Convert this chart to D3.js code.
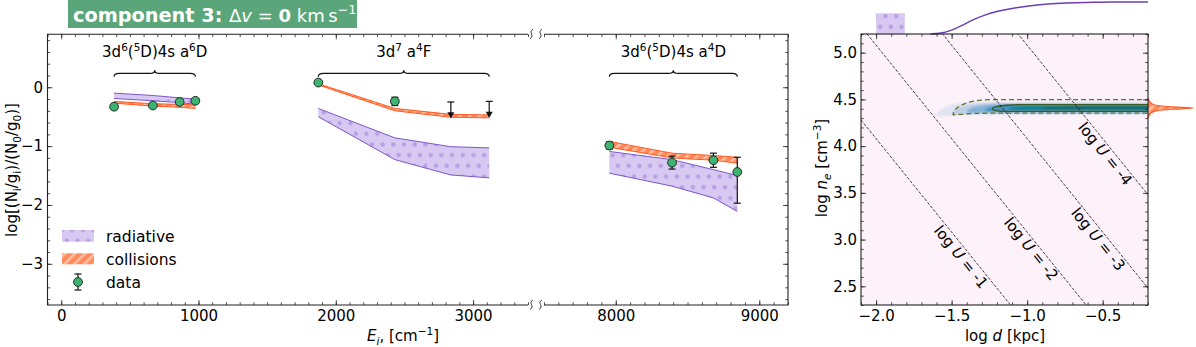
<!DOCTYPE html>
<html>
<head>
<meta charset="utf-8">
<title>component 3</title>
<script src="https://cdn.jsdelivr.net/npm/d3@7"></script>
<style>
  body { margin: 0; background: #fff; }
  svg { display: block; font-family: 'DejaVu Sans', sans-serif; }
  .tick text { font-size: 15px; fill: #000; font-family: 'DejaVu Sans', sans-serif; }
  .tick line { stroke: #222; stroke-width: 0.8; }
</style>
</head>
<body>
<div id="chart"></div>
<script>
// ---- left panel: Fe II level populations ----
var levelE    = [384.79, 667.68, 862.61, 977.05, 1872.60, 2430.14, 2837.98, 3117.46, 7955.32, 8391.94, 8680.45, 8846.78];
var levelTerm = [0, 0, 0, 0, 1, 1, 1, 1, 2, 2, 2, 2];
var radHi = [-0.10, -0.14, -0.18, -0.20, -0.36, -0.86, -1.01, -1.03, -1.09, -1.23, -1.40, -1.50];
var radLo = [-0.19, -0.23, -0.26, -0.29, -0.50, -1.23, -1.49, -1.54, -1.46, -1.68, -1.88, -2.11];
var colHi = [-0.24, -0.28, -0.29, -0.30, 0.06, -0.36, -0.46, -0.47, -0.92, -1.12, -1.16, -1.19];
var colLo = [-0.27, -0.32, -0.34, -0.36, 0.04, -0.40, -0.51, -0.52, -1.02, -1.20, -1.24, -1.29];
var termLabels = [
  [["3d"], ["6", "sup"], ["("], ["5", "sup"], ["D)4s a"], ["6", "sup"], ["D"]],
  [["3d"], ["7", "sup"], [" a"], ["4", "sup"], ["F"]],
  [["3d"], ["6", "sup"], ["("], ["5", "sup"], ["D)4s a"], ["4", "sup"], ["D"]]
];

var obsE     = [384.79, 667.68, 862.61, 977.05, 1872.60, 2430.14, 7955.32, 8391.94, 8680.45, 8846.78];
var obsVal   = [-0.33, -0.31, -0.25, -0.23, 0.08, -0.24, -0.99, -1.28, -1.24, -1.44];
var obsErrLo = [0.02, 0.02, 0.03, 0.03, 0.02, 0.07, 0.06, 0.11, 0.12, 0.53];
var obsErrHi = [0.02, 0.02, 0.03, 0.03, 0.02, 0.07, 0.06, 0.11, 0.12, 0.25];
var limE   = [2837.98, 3117.46];
var limVal = [-0.25, -0.24];
var limLen = 0.26;

var xTicksA = [0, 1000, 2000, 3000];
var xTicksB = [8000, 9000];
var yTicks  = [0, -1, -2, -3];

// ---- right panel: distance / density ----
var logUs   = [-1, -2, -3, -4];
var uConst  = -0.92;               // log n = uConst - 2 log d - log U
var uLabelD = [-1.464, -1.0, -0.556, -0.51];
var uLabelN = [2.78, 2.865, 2.97, 3.884];
var densTipD = [-1.60, -1.50, -1.40, -1.28, -1.12, -0.90];
var densTipN = [4.315, 4.335, 4.36, 4.385, 4.40, 4.405];
var densTopN = [4.47, 4.46, 4.45, 4.443, 4.437, 4.428];
var densBotN = [4.335, 4.35, 4.36, 4.372, 4.385, 4.395];
var densCol  = ["#d9deee", "#b4c8e2", "#7fb2d6", "#3f93c2", "#0f8290", "#17685a"];
var contTipD = [-1.49, -1.23];
var contTipN = [4.335, 4.40];
var contTopN = [4.497, 4.445];
var contBotN = [4.353, 4.373];
var margD = [-1.64, -1.58, -1.50, -1.43, -1.36, -1.28, -1.20, -1.10, -0.99, -0.88, -0.77, -0.60, -0.44, -0.20];
var margV = [0.0, 0.02, 0.12, 0.27, 0.44, 0.59, 0.70, 0.80, 0.875, 0.93, 0.96, 0.985, 1.0, 1.0];
var margN = [4.30, 4.33, 4.36, 4.38, 4.395, 4.407, 4.42, 4.435, 4.455, 4.485, 4.52];
var margNV = [0.0, 0.03, 0.08, 0.2, 0.55, 1.0, 0.55, 0.2, 0.08, 0.03, 0.0];
var priorD = [-2.0, -1.81];

var W = 1196, H = 347;
var svg = d3.select("#chart").append("svg").attr("width", W).attr("height", H);
svg.append("rect").attr("width", W).attr("height", H).attr("fill", "#fff");

var defs = svg.append("defs");
var pd = defs.append("pattern").attr("id", "dots").attr("patternUnits", "userSpaceOnUse")
  .attr("width", 10.7).attr("height", 21.4);
pd.append("rect").attr("width", 10.7).attr("height", 21.4).attr("fill", "#d7c9f1");
pd.append("circle").attr("cx", 2.7).attr("cy", 5.3).attr("r", 2.2).attr("fill", "#b89fe4");
pd.append("circle").attr("cx", 8.05).attr("cy", 16).attr("r", 2.2).attr("fill", "#b89fe4");
var ph = defs.append("pattern").attr("id", "hatch").attr("patternUnits", "userSpaceOnUse")
  .attr("width", 7).attr("height", 7).attr("patternTransform", "rotate(45)");
ph.append("rect").attr("width", 7).attr("height", 7).attr("fill", "#ff8a5c");
ph.append("rect").attr("width", 2.6).attr("height", 7).attr("fill", "#ffbfa2");
defs.append("filter").attr("id", "soft").append("feGaussianBlur").attr("stdDeviation", 1.2);
defs.append("clipPath").attr("id", "clipR").append("rect")
  .attr("x", 861).attr("y", 34).attr("width", 287).attr("height", 271);

function rich(t, parts, fs) {
  var off = 0;
  parts.forEach(function(p) {
    var s = p[1] || "";
    var target = 0;
    if (s.indexOf("sub") >= 0) target = fs * 0.28;
    if (s.indexOf("sup") >= 0) target = -fs * 0.42;
    var ts = t.append("tspan").text(p[0]).attr("dy", target - off);
    off = target;
    if (target !== 0) ts.attr("font-size", fs * 0.7);
    if (s.indexOf("it") >= 0) ts.attr("font-style", "italic");
    if (s.indexOf("bold") >= 0) ts.attr("font-weight", "bold");
  });
}

// ================= LEFT PANEL =================
var xA = d3.scaleLinear().domain([-100, 3400]).range([47.5, 528]);
var xB = d3.scaleLinear().domain([7500, 9200]).range([544, 788]);
var y = d3.scaleLinear().domain([-3.7, 0.9]).range([305, 34.3]);
function xE(e) { return e < 5000 ? xA(e) : xB(e); }

var levels = levelE.map(function(e, i) {
  return { e: e, t: levelTerm[i], rh: radHi[i], rl: radLo[i], ch: colHi[i], cl: colLo[i] };
});
var terms = d3.groups(levels, function(d) { return d.t; });

var gL = svg.append("g");
var radArea = d3.area().x(function(d) { return xE(d.e); })
  .y0(function(d) { return y(d.rl); }).y1(function(d) { return y(d.rh); });
var colArea = d3.area().x(function(d) { return xE(d.e); })
  .y0(function(d) { return y(d.cl); }).y1(function(d) { return y(d.ch); });
var radTop = d3.line().x(function(d) { return xE(d.e); }).y(function(d) { return y(d.rh); });
var radBot = d3.line().x(function(d) { return xE(d.e); }).y(function(d) { return y(d.rl); });
var colTop = d3.line().x(function(d) { return xE(d.e); }).y(function(d) { return y(d.ch); });
var colBot = d3.line().x(function(d) { return xE(d.e); }).y(function(d) { return y(d.cl); });

terms.forEach(function(tg) {
  var pts = tg[1];
  gL.append("path").attr("d", radArea(pts)).attr("fill", "url(#dots)");
  [radTop, radBot].forEach(function(f) {
    gL.append("path").attr("d", f(pts)).attr("fill", "none").attr("stroke", "#7d57c6").attr("stroke-width", 1);
  });
});
terms.forEach(function(tg) {
  var pts = tg[1];
  gL.append("path").attr("d", colArea(pts)).attr("fill", "url(#hatch)");
  [colTop, colBot].forEach(function(f) {
    gL.append("path").attr("d", f(pts)).attr("fill", "none").attr("stroke", "#ff5a24").attr("stroke-width", 1);
  });
});

// braces + term labels
terms.forEach(function(tg) {
  var pts = tg[1];
  var x0 = xE(pts[0].e), x1 = xE(pts[pts.length - 1].e), xm = (x0 + x1) / 2;
  var yb = y(0.18), yf = y(0.235), yt = y(0.29), r = 5;
  var p = d3.path();
  p.moveTo(x0, yb);
  p.quadraticCurveTo(x0, yf, x0 + r, yf);
  p.lineTo(xm - r, yf);
  p.quadraticCurveTo(xm, yf, xm, yt);
  p.quadraticCurveTo(xm, yf, xm + r, yf);
  p.lineTo(x1 - r, yf);
  p.quadraticCurveTo(x1, yf, x1, yb);
  gL.append("path").attr("d", p.toString()).attr("fill", "none").attr("stroke", "#111").attr("stroke-width", 1.2);
  var t = gL.append("text").attr("x", xm).attr("y", 57).attr("text-anchor", "middle").attr("font-size", 15);
  rich(t, termLabels[tg[0]], 15);
});

// data points with error bars
var obs = obsE.map(function(e, i) { return { e: e, v: obsVal[i], lo: obsErrLo[i], hi: obsErrHi[i] }; });
obs.forEach(function(d) {
  var cx = xE(d.e);
  gL.append("line").attr("x1", cx).attr("x2", cx).attr("y1", y(d.v - d.lo)).attr("y2", y(d.v + d.hi))
    .attr("stroke", "#111").attr("stroke-width", 1.2);
  [d.v - d.lo, d.v + d.hi].forEach(function(v) {
    gL.append("line").attr("x1", cx - 3.5).attr("x2", cx + 3.5).attr("y1", y(v)).attr("y2", y(v))
      .attr("stroke", "#111").attr("stroke-width", 1.2);
  });
});
limE.forEach(function(e, i) {
  var cx = xE(e), y0 = y(limVal[i]), y1 = y(limVal[i] - limLen);
  gL.append("line").attr("x1", cx).attr("x2", cx).attr("y1", y0).attr("y2", y1).attr("stroke", "#111").attr("stroke-width", 1.2);
  gL.append("line").attr("x1", cx - 3.5).attr("x2", cx + 3.5).attr("y1", y0).attr("y2", y0).attr("stroke", "#111").attr("stroke-width", 1.2);
  gL.append("path").attr("d", "M" + (cx - 3.5) + "," + (y1 - 5) + "L" + (cx + 3.5) + "," + (y1 - 5) + "L" + cx + "," + (y1 + 1) + "Z")
    .attr("fill", "#111");
});
gL.selectAll("circle.obs").data(obs).join("circle").attr("class", "obs")
  .attr("cx", function(d) { return xE(d.e); }).attr("cy", function(d) { return y(d.v); })
  .attr("r", 4.4).attr("fill", "#3cb371").attr("stroke", "#1b1b1b").attr("stroke-width", 0.9);

// legend
var lg = svg.append("g").attr("font-size", 15.5);
lg.append("rect").attr("x", 62).attr("y", 230).attr("width", 32).attr("height", 11.7).attr("fill", "url(#dots)");
lg.append("text").attr("x", 106).attr("y", 241.5).text("radiative");
lg.append("rect").attr("x", 62).attr("y", 253.3).attr("width", 32).attr("height", 11).attr("fill", "url(#hatch)");
lg.append("text").attr("x", 106).attr("y", 265).text("collisions");
lg.append("line").attr("x1", 78).attr("x2", 78).attr("y1", 274).attr("y2", 290).attr("stroke", "#111").attr("stroke-width", 1.2);
[274, 290].forEach(function(v) {
  lg.append("line").attr("x1", 74.5).attr("x2", 81.5).attr("y1", v).attr("y2", v).attr("stroke", "#111").attr("stroke-width", 1.2);
});
lg.append("circle").attr("cx", 78).attr("cy", 282).attr("r", 4.4).attr("fill", "#3cb371").attr("stroke", "#1b1b1b").attr("stroke-width", 0.9);
lg.append("text").attr("x", 106).attr("y", 288.3).text("data");

// axes of left panel
function noDomain(g) { g.select(".domain").remove(); }
function minorRange(a, b, s) { return d3.range(Math.round(a / s), Math.round(b / s) + 1).map(function(k) { return +(k * s).toFixed(4); }); }

[[xA, xTicksA, -100, 3400], [xB, xTicksB, 7500, 9200]].forEach(function(c) {
  svg.append("g").attr("transform", "translate(0,305)")
    .call(d3.axisBottom(c[0]).tickValues(minorRange(c[2], c[3], 100)).tickSize(-2.7).tickFormat("")).call(noDomain);
  svg.append("g").attr("transform", "translate(0,305)")
    .call(d3.axisBottom(c[0]).tickValues(c[1]).tickSize(-5).tickPadding(5.5).tickFormat(d3.format("d"))).call(noDomain);
  svg.append("g").attr("transform", "translate(0,34.3)")
    .call(d3.axisTop(c[0]).tickValues(minorRange(c[2], c[3], 100)).tickSize(-2.7).tickFormat("")).call(noDomain);
  svg.append("g").attr("transform", "translate(0,34.3)")
    .call(d3.axisTop(c[0]).tickValues(c[1]).tickSize(-5).tickFormat("")).call(noDomain);
});
svg.append("g").attr("transform", "translate(47.5,0)")
  .call(d3.axisLeft(y).tickValues(minorRange(-3.6, 0.8, 0.2)).tickSize(-2.7).tickFormat("")).call(noDomain);
svg.append("g").attr("transform", "translate(47.5,0)")
  .call(d3.axisLeft(y).tickValues(yTicks).tickSize(-5).tickPadding(4.5).tickFormat(d3.format("d"))).call(noDomain);
svg.append("g").attr("transform", "translate(788,0)")
  .call(d3.axisRight(y).tickValues(minorRange(-3.6, 0.8, 0.2)).tickSize(-2.7).tickFormat("")).call(noDomain);
svg.append("g").attr("transform", "translate(788,0)")
  .call(d3.axisRight(y).tickValues(yTicks).tickSize(-5).tickFormat("")).call(noDomain);

var spine = svg.append("g").attr("stroke", "#222").attr("stroke-width", 1.1).attr("fill", "none");
spine.append("path").attr("d", "M" + xA.range()[1] + ",34.3H47.5V305H" + xA.range()[1]);
spine.append("path").attr("d", "M" + xB.range()[0] + ",34.3H788V305H" + xB.range()[0]);
// break marks
[34.3, 305].forEach(function(yy) {
  [531.5, 540.5].forEach(function(xx) {
    spine.append("path").attr("d", "M" + (xx + 1.5) + "," + (yy - 5) + "C" + (xx - 4) + "," + (yy - 2) + " " + (xx + 4) + "," + (yy + 1) + " " + (xx - 1.5) + "," + (yy + 4.5))
      .attr("stroke-width", 0.9);
  });
});

var yl = svg.append("text").attr("transform", "translate(17,170) rotate(-90)").attr("text-anchor", "middle").attr("font-size", 15);
rich(yl, [["log[(N"], ["i", "sub"], ["/g"], ["i", "sub"], [")/(N"], ["0", "sub"], ["/g"], ["0", "sub"], [")]"]], 15);
var xl = svg.append("text").attr("x", 403).attr("y", 341).attr("text-anchor", "middle").attr("font-size", 15);
rich(xl, [["E", "it"], ["i", "itsub"], [", [cm"], ["\u22121", "sup"], ["]"]], 15);

// title box
svg.append("rect").attr("x", 68).attr("y", 0).attr("width", 289).attr("height", 28).attr("fill", "#5aa57a");
svg.append("text").attr("x", 73).attr("y", 22).attr("fill", "#fff").attr("font-weight", "bold").attr("font-size", 19.3).text("component 3:");
var tt = svg.append("text").attr("x", 229).attr("y", 22).attr("fill", "#fff").attr("font-size", 18);
rich(tt, [["\u0394"], ["v", "it"], [" = "], ["0", "bold"], [" km\u2009s"], ["\u22121", "sup"]], 18);

// ================= RIGHT PANEL =================
var xd = d3.scaleLinear().domain([-2.1, -0.2]).range([861, 1148]);
var yn = d3.scaleLinear().domain([2.3, 5.2]).range([305, 34]);

svg.append("rect").attr("x", 861).attr("y", 34).attr("width", 287).attr("height", 271).attr("fill", "#fdf2f9");

var gR = svg.append("g").attr("clip-path", "url(#clipR)");

function blob(tipD, tipN, topN, botN, closed) {
  var xr = 1150, xt = xd(tipD), yt = yn(tipN), y1 = yn(topN), y2 = yn(botN);
  var a = Math.min(38, (xr - xt) * 0.3);
  var p = d3.path();
  p.moveTo(xr, y1);
  p.lineTo(xt + a, y1);
  p.bezierCurveTo(xt + a * 0.3, y1, xt, yt - (yt - y1) * 0.45, xt, yt);
  p.bezierCurveTo(xt, yt + (y2 - yt) * 0.7 + 1.5, xt + a * 0.3, y2, xt + a, y2);
  p.lineTo(xr, y2);
  if (closed) p.closePath();
  return p.toString();
}
var gDens = gR.append("g").attr("filter", "url(#soft)");
densTipD.forEach(function(d, i) {
  gDens.append("path").attr("d", blob(d, densTipN[i], densTopN[i], densBotN[i], true))
    .attr("fill", densCol[i]).attr("opacity", i < 2 ? 0.8 : 1);
});
contTipD.forEach(function(d, i) {
  gR.append("path").attr("d", blob(d, contTipN[i], contTopN[i], contBotN[i], false))
    .attr("fill", "none").attr("stroke", i === 0 ? "#5f7230" : "#3c5a22").attr("stroke-width", 1.3)
    .attr("stroke-dasharray", i === 0 ? "5,3" : null);
});

// constant ionisation parameter lines
logUs.forEach(function(u, i) {
  var d0 = -2.1, d1 = -0.2;
  gR.append("line").attr("x1", xd(d0)).attr("y1", yn(uConst - 2 * d0 - u))
    .attr("x2", xd(d1)).attr("y2", yn(uConst - 2 * d1 - u))
    .attr("stroke", "#111").attr("stroke-width", 0.8).attr("stroke-dasharray", "3,1.6");
  var ang = Math.atan2(yn(uConst - 2 * d1 - u) - yn(uConst - 2 * d0 - u), xd(d1) - xd(d0)) * 180 / Math.PI;
  var t = gR.append("text").attr("text-anchor", "middle").attr("font-size", 15)
    .attr("transform", "translate(" + xd(uLabelD[i]) + "," + yn(uLabelN[i]) + ") rotate(" + ang + ")").attr("dy", "0.35em");
  rich(t, [["log "], ["U", "it"], [" = " + u]], 15);
});

// marginals
var mline = d3.line().x(function(d) { return xd(d[0]); }).y(function(d) { return 34 - d[1] * 32; }).curve(d3.curveMonotoneX);
svg.append("path").attr("d", mline(margD.map(function(d, i) { return [d, margV[i]]; })))
  .attr("fill", "none").attr("stroke", "#6a40b4").attr("stroke-width", 1.5);
svg.append("rect").attr("x", xd(priorD[0])).attr("y", 13.3).attr("width", xd(priorD[1]) - xd(priorD[0])).attr("height", 20.7)
  .attr("fill", "url(#dots)");
var marea = d3.area().y(function(d) { return yn(d[0]); }).x0(1148).x1(function(d) { return 1148 + d[1] * 45; }).curve(d3.curveMonotoneY);
var mpts = margN.map(function(n, i) { return [n, margNV[i]]; });
svg.append("path").attr("d", marea(mpts)).attr("fill", "url(#hatch)");
svg.append("path").attr("d", d3.line().y(function(d) { return yn(d[0]); }).x(function(d) { return 1148 + d[1] * 45; }).curve(d3.curveMonotoneY)(mpts))
  .attr("fill", "none").attr("stroke", "#ff5a24").attr("stroke-width", 1.2);

// axes of right panel
var rxMinor = minorRange(-2.1, -0.2, 0.1), ryMinor = minorRange(2.3, 5.2, 0.1);
var rxMajor = [-2.0, -1.5, -1.0, -0.5], ryMajor = [2.5, 3.0, 3.5, 4.0, 4.5, 5.0];
svg.append("g").attr("transform", "translate(0,305)").call(d3.axisBottom(xd).tickValues(rxMinor).tickSize(-2.7).tickFormat("")).call(noDomain);
svg.append("g").attr("transform", "translate(0,305)").call(d3.axisBottom(xd).tickValues(rxMajor).tickSize(-5).tickPadding(5.5).tickFormat(d3.format(".1f"))).call(noDomain);
svg.append("g").attr("transform", "translate(0,34)").call(d3.axisTop(xd).tickValues(rxMinor).tickSize(-2.7).tickFormat("")).call(noDomain);
svg.append("g").attr("transform", "translate(0,34)").call(d3.axisTop(xd).tickValues(rxMajor).tickSize(-5).tickFormat("")).call(noDomain);
svg.append("g").attr("transform", "translate(861,0)").call(d3.axisLeft(yn).tickValues(ryMinor).tickSize(-2.7).tickFormat("")).call(noDomain);
svg.append("g").attr("transform", "translate(861,0)").call(d3.axisLeft(yn).tickValues(ryMajor).tickSize(-5).tickPadding(4).tickFormat(d3.format(".1f"))).call(noDomain);
svg.append("g").attr("transform", "translate(1148,0)").call(d3.axisRight(yn).tickValues(ryMinor).tickSize(-2.7).tickFormat("")).call(noDomain);
svg.append("g").attr("transform", "translate(1148,0)").call(d3.axisRight(yn).tickValues(ryMajor).tickSize(-5).tickFormat("")).call(noDomain);
svg.append("rect").attr("x", 861).attr("y", 34).attr("width", 287).attr("height", 271)
  .attr("fill", "none").attr("stroke", "#222").attr("stroke-width", 1.1);

var ryl = svg.append("text").attr("transform", "translate(827,168) rotate(-90)").attr("text-anchor", "middle").attr("font-size", 15);
rich(ryl, [["log "], ["n", "it"], ["e", "itsub"], [" [cm"], ["\u22123", "sup"], ["]"]], 15);
var rxl = svg.append("text").attr("x", 1005).attr("y", 341).attr("text-anchor", "middle").attr("font-size", 15);
rich(rxl, [["log "], ["d", "it"], [" [kpc]"]], 15);
</script>
</body>
</html>
